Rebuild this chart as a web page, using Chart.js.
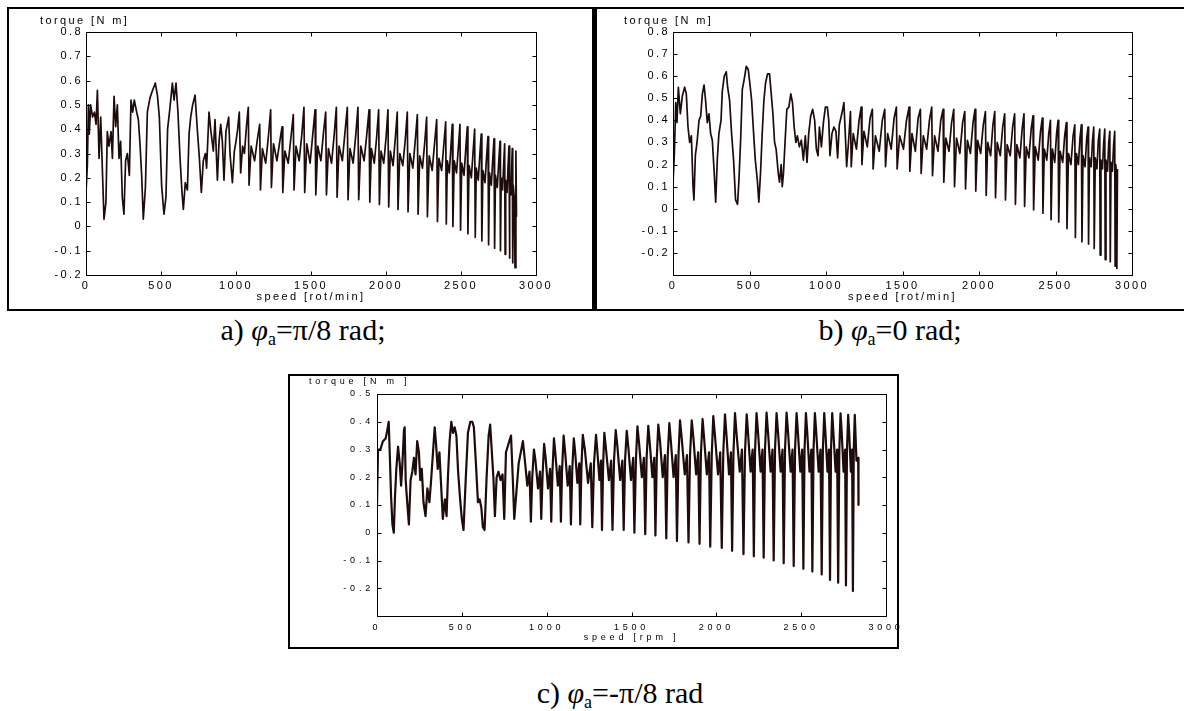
<!DOCTYPE html>
<html><head><meta charset="utf-8">
<script src="https://cdn.jsdelivr.net/npm/chart.js@4.4.1/dist/chart.umd.min.js"></script>
<style>
html,body{margin:0;padding:0;background:#fff;width:1184px;height:711px;overflow:hidden;position:relative}
.box{position:absolute;box-sizing:border-box;border:2px solid #000}
canvas{position:absolute}
.cap{position:absolute;font-family:"Liberation Serif","Times New Roman",serif;font-size:30px;white-space:pre;line-height:1;color:#000;transform:translateX(-50%)}
.cap sub{font-size:18px;vertical-align:-5px;line-height:0}
</style></head><body>
<div class="box" style="left:7px;top:7px;width:587px;height:304px"></div>
<div class="box" style="left:594px;top:7px;width:600px;height:304px;border-left-width:3px;border-right:none"></div>
<div class="box" style="left:288px;top:374px;width:611px;height:275px"></div>
<canvas id="ca" width="582" height="299" style="left:10px;top:10px"></canvas>
<canvas id="cb" width="587" height="299" style="left:597px;top:10px"></canvas>
<canvas id="cc" width="625" height="268" style="left:291px;top:377px"></canvas>
<div class="cap" style="left:303px;top:315px">a) <i>φ</i><sub>a</sub>=π/8 rad;</div>
<div class="cap" style="left:890px;top:315px">b) <i>φ</i><sub>a</sub>=0 rad;</div>
<div class="cap" style="left:620px;top:678px">c) <i>φ</i><sub>a</sub>=-π/8 rad</div>
<script>
// ---------- panel a : phi_a = pi/8 ----------
const speedA = [0,9,16,22,31,44,56,67,76,87,98,111,120,133,142,153,167,176,187,198,209,220,231,242,253,264,276,289,300,311,322,338,349,360,371,382,396,409,427,444,462,476,489,504,520,533,544,560,576,587,600,613,627,640,649,662,676,687,698,711,727,742,756,769,782,796,804,820,833,849,860,876,887,898,909,920,933,951,960,976,989,1000,1011,1022,1031,1044,1056,1071,
1082,1087,1101,1124,1143, 1158,1163,1176,1198,1216, 1231,1236,1250,1273,1292, 1307,1312,1326,1348,1367,
1382,1387,1400,1421,1439, 1453,1458,1472,1494,1512, 1527,1532,1545,1566,1584, 1598,1603,1616,1637,1655,
1669,1674,1687,1709,1727, 1742,1747,1760,1781,1799, 1813,1818,1832,1854,1872, 1887,1892,1903,1922,1938,
1951,1956,1967,1985,2001, 2013,2018,2029,2047,2063, 2075,2080,2092,2112,2129, 2142,2147,2159,2179,2196,
2209,2214,2225,2243,2259, 2271,2276,2288,2308,2325, 2338,2343,2353,2371,2386, 2398,2402,2409,2422,2433,
2442,2446,2455,2470,2483, 2493,2497,2505,2520,2532, 2542,2546,2554,2569,2581, 2591,2595,2602,2615,2626,
2635,2639,2646,2660,2671, 2680,2684,2690,2702,2712, 2720,2724,2730,2742,2752, 2760,2763,2768,2777,2785,
2791,2794,2798,2807,2814, 2820,2823,2826,2833,2838, 2842,2845,2848,2855,2860, 2866,2870];
const torqueA = [0.14,0.25,0.50,0.38,0.50,0.45,0.47,0.42,0.56,0.28,0.45,0.20,0.03,0.10,0.39,0.33,0.39,0.28,0.535,0.41,0.50,0.28,0.35,0.12,0.05,0.27,0.30,0.21,0.52,0.47,0.52,0.47,0.44,0.34,0.21,0.03,0.16,0.47,0.53,0.56,0.59,0.54,0.45,0.17,0.05,0.12,0.40,0.49,0.59,0.52,0.59,0.47,0.28,0.14,0.07,0.18,0.15,0.38,0.45,0.50,0.54,0.40,0.28,0.14,0.27,0.30,0.24,0.47,0.39,0.31,0.44,0.19,0.35,0.42,0.35,0.19,0.39,0.45,0.30,0.18,0.31,0.35,0.40,0.47,0.22,0.33,0.30,0.42,
0.49,0.17,0.33,0.27,0.36, 0.42,0.15,0.32,0.26,0.37, 0.48,0.16,0.34,0.27,0.35, 0.41,0.14,0.31,0.26,0.37,
0.46,0.15,0.33,0.27,0.38, 0.49,0.14,0.34,0.26,0.38, 0.48,0.13,0.33,0.27,0.39, 0.47,0.13,0.32,0.26,0.38,
0.49,0.12,0.33,0.27,0.39, 0.49,0.11,0.32,0.26,0.38, 0.49,0.11,0.33,0.27,0.38, 0.48,0.10,0.32,0.26,0.37,
0.48,0.09,0.31,0.26,0.37, 0.48,0.08,0.31,0.25,0.37, 0.47,0.07,0.30,0.25,0.36, 0.47,0.06,0.30,0.24,0.36,
0.46,0.05,0.29,0.24,0.35, 0.45,0.04,0.29,0.23,0.35, 0.44,0.02,0.28,0.23,0.34, 0.43,0.01,0.27,0.22,0.33,
0.42,0.00,0.27,0.22,0.33, 0.42,-0.015,0.26,0.21,0.32, 0.41,-0.03,0.25,0.20,0.31, 0.40,-0.045,0.24,0.19,0.30,
0.38,-0.06,0.23,0.18,0.29, 0.37,-0.075,0.22,0.17,0.28, 0.36,-0.09,0.21,0.16,0.27, 0.35,-0.10,0.20,0.15,0.26,
0.34,-0.115,0.19,0.14,0.25, 0.33,-0.13,0.18,0.13,0.24, 0.32,-0.15,0.17,0.12,-0.17, 0.31,0.04];

// ---------- panel b : phi_a = 0 ----------
const speedB = [0,9,18,26,35,48,61,76,87,98,109,120,131,137,146,157,170,181,192,203,213,224,235,246,257,268,279,290,300,314,322,335,348,357,370,383,396,409,422,431,442,453,464,479,492,505,514,527,538,551,561,572,583,594,605,618,631,642,653,664,674,688,696,707,714,722,733,744,757,770,781,792,803,813,826,839,852,865,876,887,900,913,926,937,948,957,970,983,996,1009,1018,1026,1039,1052,1065,1076,1087,1100,1109,1117,1126,1135,1148,
1160,1165,1178,1199,1216, 1230,1235,1248,1270,1288, 1303,1308,1323,1348,1368, 1384,1389,1403,1426,1445,
1460,1465,1481,1506,1526, 1543,1548,1562,1584,1602, 1617,1622,1636,1658,1676, 1691,1696,1710,1732,1750,
1765,1770,1783,1804,1821, 1835,1840,1853,1875,1893, 1907,1912,1924,1944,1961, 1974,1979,1991,2011,2028,
2042,2047,2057,2076,2091, 2103,2108,2119,2139,2155, 2168,2173,2184,2204,2220, 2233,2238,2248,2267,2282,
2294,2298,2309,2326,2341, 2353,2357,2368,2387,2402, 2414,2418,2427,2443,2456, 2467,2471,2480,2495,2507,
2517,2521,2530,2547,2560, 2571,2575,2585,2601,2615, 2626,2630,2637,2650,2660, 2669,2673,2680,2693,2704,
2713,2716,2722,2733,2742, 2750,2753,2760,2771,2780, 2789,2792,2797,2807,2815, 2822,2825,2830,2840,2848,
2855,2858,2863,2872,2880, 2887,2890,2894,2898,2901,2905];
const torqueB = [0.117,0.25,0.48,0.39,0.55,0.43,0.51,0.55,0.52,0.37,0.30,0.33,0.10,0.04,0.24,0.30,0.40,0.42,0.52,0.56,0.49,0.39,0.43,0.34,0.31,0.18,0.03,0.23,0.34,0.40,0.53,0.60,0.62,0.55,0.49,0.34,0.22,0.04,0.02,0.13,0.31,0.54,0.58,0.645,0.63,0.55,0.49,0.34,0.22,0.13,0.03,0.16,0.34,0.49,0.57,0.61,0.61,0.52,0.43,0.30,0.27,0.16,0.12,0.20,0.10,0.16,0.31,0.45,0.46,0.52,0.48,0.37,0.30,0.33,0.28,0.31,0.22,0.33,0.21,0.34,0.42,0.45,0.40,0.27,0.24,0.37,0.28,0.39,0.46,0.46,0.40,0.24,0.34,0.37,0.35,0.23,0.38,0.42,0.45,0.48,0.34,0.19,0.31,
0.44,0.19,0.34,0.27,0.40, 0.46,0.20,0.35,0.28,0.41, 0.45,0.18,0.33,0.26,0.40, 0.45,0.19,0.34,0.27,0.41,
0.46,0.18,0.33,0.27,0.40, 0.46,0.17,0.34,0.26,0.41, 0.45,0.16,0.33,0.27,0.40, 0.46,0.15,0.33,0.26,0.40,
0.45,0.12,0.32,0.26,0.39, 0.45,0.10,0.32,0.25,0.39, 0.44,0.09,0.31,0.25,0.39, 0.45,0.08,0.31,0.25,0.38,
0.44,0.06,0.30,0.24,0.38, 0.44,0.05,0.30,0.24,0.37, 0.43,0.04,0.29,0.24,0.37, 0.43,0.02,0.29,0.23,0.36,
0.43,0.01,0.28,0.23,0.36, 0.42,-0.005,0.28,0.22,0.35, 0.41,-0.02,0.27,0.22,0.34, 0.40,-0.05,0.27,0.21,0.34,
0.40,-0.06,0.26,0.21,0.33, 0.39,-0.09,0.25,0.20,0.33, 0.38,-0.13,0.25,0.20,0.32, 0.38,-0.15,0.24,0.19,0.32,
0.37,-0.16,0.23,0.19,0.31, 0.37,-0.18,0.23,0.18,0.31, 0.36,-0.21,0.22,0.18,0.30, 0.36,-0.23,0.22,0.17,0.30,
0.35,-0.24,0.21,0.17,0.29, 0.35,-0.26,0.20,0.16,-0.27,0.18];

// ---------- panel c : phi_a = -pi/8 ----------
const speedC = [0,6,20,35,51,61,69,77,83,91,99,106,114,124,134,142,149,159,163,169,178,188,198,208,218,227,237,247,255,264,274,286,297,309,319,329,340,348,358,368,378,388,400,410,418,428,438,448,458,468,478,490,500,510,522,536,550,562,571,583,595,605,615,624,634,646,658,667,676,686,695,705,716,728,740,750,760,770,780,790,800,809,835,
860,870,886,899,907,915, 925,934,949,961,968,976, 985,994,1008,1020,1027,1034, 1043,1052,1066,1077,1084,1091,
1100,1109,1124,1136,1143,1151, 1160,1168,1181,1192,1198,1205, 1213,1225,1244,1260,1269,1279, 1291,1298,1311,1320,1326,1333,
1340,1350,1367,1380,1388,1397, 1407,1417,1433,1446,1454,1462, 1472,1481,1497,1510,1517,1526, 1535,1545,1561,1573,1581,1589,
1599,1608,1623,1634,1641,1649, 1658,1668,1684,1697,1705,1713, 1723,1732,1748,1761,1768,1777, 1786,1796,1814,1827,1836,1845,
1855,1865,1881,1893,1901,1909, 1919,1928,1944,1957,1964,1973, 1982,1992,2010,2023,2032,2041, 2051,2060,2075,2086,2093,2101,
2110,2120,2138,2151,2160,2169, 2179,2188,2202,2214,2221,2228, 2237,2246,2261,2272,2279,2287, 2296,2305,2320,2331,2338,2346,
2355,2364,2379,2390,2397,2405, 2414,2423,2438,2449,2456,2464, 2473,2481,2495,2506,2513,2520, 2528,2536,2549,2560,2566,2573,
2581,2589,2603,2614,2621,2628, 2636,2643,2655,2664,2670,2676, 2683,2690,2703,2712,2718,2725, 2732,2739,2750,2759,2764,2770,
2777,2783,2793,2800,2805,2810, 2816,2826,2836,2838];
const torqueC = [0.10,0.30,0.30,0.33,0.34,0.37,0.40,0.25,0.13,0.03,0.00,0.13,0.23,0.31,0.25,0.17,0.24,0.37,0.38,0.19,0.11,0.03,0.19,0.22,0.27,0.21,0.33,0.29,0.19,0.23,0.11,0.06,0.16,0.11,0.19,0.28,0.38,0.32,0.23,0.29,0.17,0.05,0.12,0.06,0.20,0.33,0.40,0.36,0.38,0.35,0.22,0.12,0.05,0.01,0.18,0.36,0.40,0.40,0.38,0.25,0.11,0.12,0.09,0.02,0.01,0.20,0.35,0.39,0.30,0.20,0.06,0.20,0.22,0.19,0.21,0.05,0.29,0.31,0.33,0.35,0.20,0.05,0.25,
0.33,0.27,0.17,0.22,0.04,0.20, 0.30,0.26,0.16,0.22,0.05,0.21, 0.32,0.27,0.16,0.23,0.04,0.22, 0.34,0.28,0.17,0.24,0.04,0.23,
0.35,0.29,0.17,0.24,0.03,0.23, 0.34,0.29,0.18,0.25,0.03,0.24, 0.353,0.30,0.18,0.25,0.02,0.25, 0.353,0.30,0.19,0.26,0.01,0.25,
0.36,0.30,0.19,0.26,0.01,0.26, 0.37,0.31,0.19,0.26,0.01,0.26, 0.367,0.31,0.19,0.27,0.00,0.26, 0.383,0.32,0.20,0.27,-0.005,0.27,
0.385,0.32,0.20,0.27,-0.01,0.27, 0.39,0.33,0.20,0.28,-0.02,0.27, 0.395,0.33,0.20,0.28,-0.03,0.28, 0.405,0.34,0.21,0.28,-0.035,0.28,
0.405,0.34,0.21,0.29,-0.04,0.28, 0.41,0.34,0.21,0.29,-0.05,0.28, 0.42,0.35,0.21,0.29,-0.055,0.29, 0.427,0.35,0.21,0.29,-0.065,0.29,
0.431,0.35,0.22,0.30,-0.077,0.29, 0.427,0.35,0.22,0.30,-0.085,0.29, 0.431,0.36,0.22,0.30,-0.09,0.30, 0.433,0.36,0.22,0.30,-0.10,0.30,
0.431,0.36,0.22,0.30,-0.11,0.30, 0.433,0.36,0.22,0.30,-0.12,0.30, 0.431,0.36,0.22,0.30,-0.13,0.30, 0.431,0.36,0.22,0.30,-0.14,0.30,
0.431,0.36,0.22,0.30,-0.15,0.30, 0.431,0.36,0.22,0.30,-0.17,0.30, 0.431,0.36,0.22,0.30,-0.18,0.30, 0.43,0.36,0.22,0.30,-0.19,0.30,
0.425,0.36,0.22,0.30,-0.21,0.30, 0.425,0.26,0.27,0.10];

const xTicksStep = 500;          // speed axis tick spacing
const yTicksStep = 0.1;          // torque axis tick spacing
const LINE = '#1e0b0b';

const framePlugin = {
  id: 'frame',
  beforeDraw(chart, args, o) { chart.ctx.letterSpacing = o.ls + 'px'; },
  afterDraw(chart, args, o) {
    const ctx = chart.ctx, a = chart.chartArea, x = chart.scales.x, y = chart.scales.y;
    ctx.save();
    ctx.letterSpacing = '0px';
    ctx.strokeStyle = '#000'; ctx.lineWidth = 1;
    const L = Math.round(a.left) + 0.5, R = Math.round(a.right) + 0.5, T = Math.round(a.top) + 0.5, B = Math.round(a.bottom) + 0.5;
    ctx.strokeRect(L, T, R - L, B - T);
    ctx.beginPath();
    x.ticks.forEach(t => { const p = Math.round(x.getPixelForValue(t.value)) + 0.5; ctx.moveTo(p, B); ctx.lineTo(p, B - o.tl); ctx.moveTo(p, T); ctx.lineTo(p, T + o.tl); });
    y.ticks.forEach(t => { const p = Math.round(y.getPixelForValue(t.value)) + 0.5; ctx.moveTo(L, p); ctx.lineTo(L + o.tl, p); ctx.moveTo(R, p); ctx.lineTo(R - o.tl, p); });
    ctx.stroke();
    ctx.letterSpacing = o.ls + 'px';
    ctx.font = o.fs + 'px "Liberation Sans", Arial, sans-serif';
    ctx.fillStyle = '#000'; ctx.textAlign = 'left'; ctx.textBaseline = 'middle';
    ctx.fillText(o.label, a.left + o.ldx, a.top + o.ldy);
    ctx.restore();
  }
};

function makeChart(id, speed, torque, c) {
  const n = Math.min(speed.length, torque.length);
  const pts = [];
  for (let i = 0; i < n; i++) pts.push({x: speed[i], y: torque[i]});
  const font = {family: '"Liberation Sans", Arial, sans-serif', size: c.fs};
  return new Chart(document.getElementById(id), {
    type: 'line',
    data: {datasets: [{data: pts, borderColor: LINE, borderWidth: c.lw, pointRadius: 0, tension: 0, fill: false, borderJoinStyle: 'round'}]},
    options: {
      responsive: false, animation: false, devicePixelRatio: 1,
      layout: {padding: {left: 0, top: c.padTop, right: c.padRight, bottom: 0}},
      plugins: {legend: {display: false}, tooltip: {enabled: false},
        frame: {ls: c.ls, tl: 4, fs: c.fs, label: c.yLabel, ldx: c.ldx, ldy: c.ldy}},
      scales: {
        x: {type: 'linear', min: 0, max: 3000,
          ticks: {stepSize: xTicksStep, padding: c.xPad, font, color: '#000', maxRotation: 0, autoSkip: false, callback: v => String(v)},
          grid: {display: false, drawTicks: false}, border: {display: false},
          title: {display: true, text: c.xTitle, font, color: '#000', padding: {top: 0, bottom: c.titlePad}},
          afterFit(s) { s.height = c.xH; s.paddingLeft = 0; s.paddingRight = 0; }},
        y: {type: 'linear', min: c.ymin, max: c.ymax,
          ticks: {stepSize: yTicksStep, maxTicksLimit: 30, padding: c.yPad, font, color: '#000', autoSkip: false,
            callback: v => (v < -0.25 ? '' : (Math.abs(v) < 1e-9 ? '0' : v.toFixed(1)))},
          grid: {display: false, drawTicks: false}, border: {display: false},
          afterFit(s) { s.width = c.yW; s.paddingTop = 0; s.paddingBottom = 0; }}
      }
    },
    plugins: [framePlugin]
  });
}

makeChart('ca', speedA, torqueA, {fs: 11, ls: 2.4, lw: 1.7, padTop: 22, padRight: 56, yW: 76, xH: 34, xPad: 4, yPad: 3, titlePad: 5,
  ymin: -0.2, ymax: 0.8, xTitle: 'speed [rot/min]', yLabel: 'torque [N m]', ldx: -46, ldy: -11});
makeChart('cb', speedB, torqueB, {fs: 11, ls: 2.4, lw: 1.7, padTop: 22, padRight: 52, yW: 76, xH: 34, xPad: 4, yPad: 3, titlePad: 5,
  ymin: -0.3, ymax: 0.8, xTitle: 'speed [rot/min]', yLabel: 'torque [N m]', ldx: -49, ldy: -11});
makeChart('cc', speedC, torqueC, {fs: 9, ls: 3.8, lw: 2.2, padTop: 17, padRight: 30, yW: 86, xH: 29, xPad: 6, yPad: 3, titlePad: 2,
  ymin: -0.3, ymax: 0.5, xTitle: 'speed [rpm ]', yLabel: 'torque [N m ]', ldx: -68, ldy: -12});
</script>
</body></html>
